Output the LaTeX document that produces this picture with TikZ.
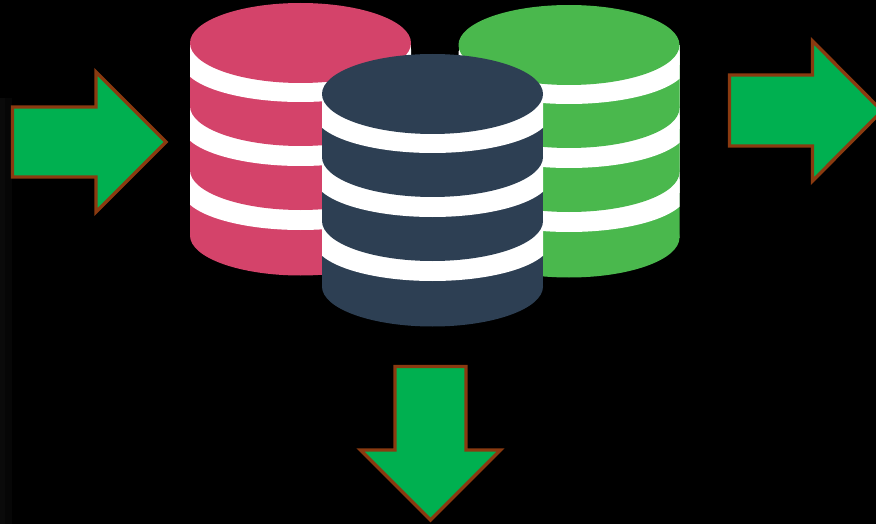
\documentclass[tikz,border=0pt]{standalone}
\definecolor{dbred}{HTML}{D4436A}
\definecolor{dbgreen}{HTML}{4AB84D}
\definecolor{dbdark}{HTML}{2D3F53}
\definecolor{arrowfill}{HTML}{00B050}
\definecolor{arrowline}{HTML}{8A3A10}
\definecolor{stripa}{HTML}{0A0A0A}
\definecolor{stripb}{HTML}{060606}
\tikzset{
  flowarrow/.style={fill=arrowfill,draw=arrowline,line width=3.4pt,miter limit=10},
}
\newcommand{\dbcylinder}[3]{%
  \begin{scope}[shift={(#1,#2)}]
    \clip (-110.5,-45) rectangle (110.5,240);
    \fill[#3] (-110.5,0) rectangle (110.5,192.5);
    \fill[#3] (0,192.5) ellipse [x radius=110.5,y radius=40];
    \fill[white] (-110.5,0) rectangle (110.5,148);
    \fill[white] (0,148) ellipse [x radius=118,y radius=39];
    \fill[#3] (-110.5,0) rectangle (110.5,127);
    \fill[#3] (0,127) ellipse [x radius=110.5,y radius=40];
    \fill[white] (-110.5,0) rectangle (110.5,84);
    \fill[white] (0,84) ellipse [x radius=118,y radius=39];
    \fill[#3] (-110.5,0) rectangle (110.5,63);
    \fill[#3] (0,63) ellipse [x radius=110.5,y radius=40];
    \fill[white] (-110.5,0) rectangle (110.5,20);
    \fill[white] (0,20) ellipse [x radius=118,y radius=39];
    \fill[#3] (0,0) ellipse [x radius=110.5,y radius=40];
  \end{scope}%
}
\begin{document}
\begin{tikzpicture}[x=1pt,y=-1pt]
  \useasboundingbox (0,0) rectangle (876,524);
  \clip (0,0) rectangle (876,524);
  \fill[black] (0,0) rectangle (876,524);
  \fill[stripb] (0,98) rectangle (12,524);
  \fill[stripa] (0,98) rectangle (5,524);
  \dbcylinder{300.5}{43}{dbred}
  \dbcylinder{569}{45}{dbgreen}
  \dbcylinder{432.5}{94}{dbdark}
  \draw[flowarrow] (12.5,107) -- (96,107) -- (96,72) -- (166,142) -- (96,212) -- (96,177) -- (12.5,177) -- cycle;
  \draw[flowarrow] (729.5,75) -- (812.5,75) -- (812.5,41) -- (882,111) -- (812.5,181) -- (812.5,146) -- (729.5,146) -- cycle;
  \draw[flowarrow] (395,366.5) -- (466,366.5) -- (466,450) -- (500.5,450) -- (430.5,520) -- (360.5,450) -- (395,450) -- cycle;
\end{tikzpicture}
\end{document}
